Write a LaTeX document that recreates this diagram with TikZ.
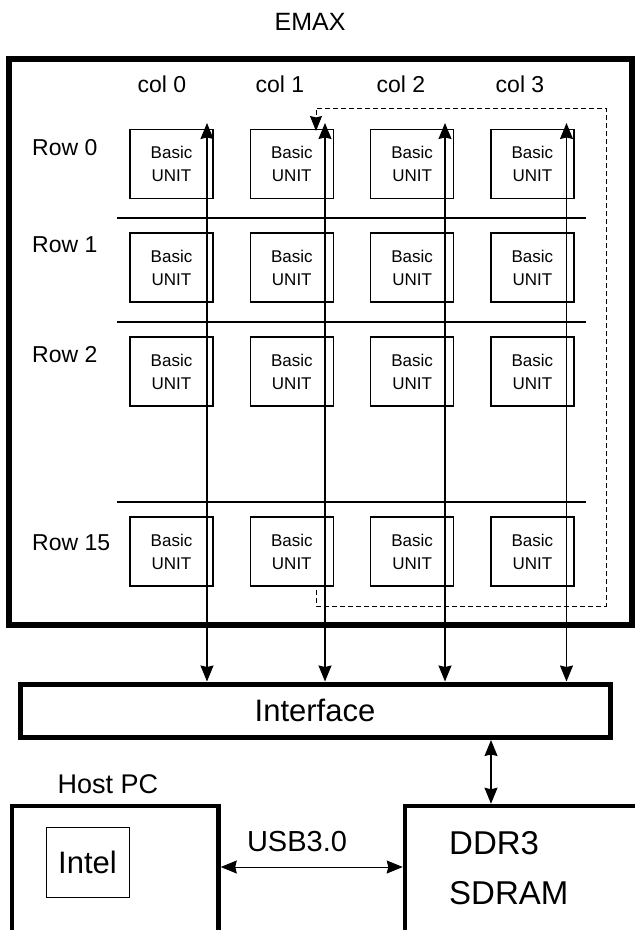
\documentclass[tikz,border=0pt]{standalone}
\usepackage{fontspec}
\setmainfont{Liberation Sans}
\usepackage{tikz}
\usetikzlibrary{arrows.meta,positioning,calc}
\tikzset{
  bunit/.style ={rectangle, draw=black, line width=1.2pt, minimum width=83pt, minimum height=69pt,
                 inner sep=0pt, align=center, font=\fontsize{17}{23}\selectfont},
  hdr/.style   ={inner sep=0pt, font=\fontsize{23}{27}\selectfont},
  frame/.style ={rectangle, draw=black, line width=6pt, inner sep=0pt},
  blk/.style   ={rectangle, draw=black, line width=4.5pt, inner sep=0pt},
  cpu/.style   ={rectangle, draw=black, line width=1pt, inner sep=0pt,
                 minimum width=83pt, minimum height=70pt, font=\fontsize{31}{35}\selectfont},
  sep/.style   ={draw=black, line width=1.2pt},
  bus/.style   ={{Stealth[length=16pt,width=13pt,inset=1.5pt]}-{Stealth[length=16pt,width=13pt,inset=1.5pt]},
                 line width=1.2pt},
  feedback/.style={-{Stealth[length=15pt,width=12pt,inset=1.5pt]}, line width=1pt,
                 dash pattern=on 5pt off 3pt}
}
\begin{document}
\begin{tikzpicture}[x={(1pt,0)}, y={(0,-1pt)}]
\useasboundingbox (0,0) rectangle (635,930);
\node[inner sep=0pt, font=\fontsize{25}{29}\selectfont] (title) at (310,22) {EMAX};
\node[frame, minimum width=623pt, minimum height=566pt] (emax) at (320.5,342) {};
\foreach \c/\cx in {0/162, 1/280, 2/401, 3/520}
  \node[hdr] (col\c) at (\cx,84) {col \c};
\foreach \r/\ry/\ly in {0/164/148, 1/267.5/245, 2/371.5/355, 15/551.5/543}{
  \node[hdr, anchor=west] (row\r) at (32,\ly) {Row \r};
  \foreach \c in {0,...,3}
    \node[bunit] (u\r-\c) at ({171.5+120.3*\c},\ry) {Basic\\UNIT};
}
\foreach \sy in {218,322,502}
  \draw[sep] (117,\sy) -- (586,\sy);
\node[frame, line width=5pt, minimum width=590pt, minimum height=53.5pt,
      font=\fontsize{31}{35}\selectfont] (iface) at (315,710.75) {Interface};
\foreach \c/\bx in {0/207, 1/325, 2/445, 3/566.5}{
  \coordinate (tap\c) at (\bx,123);
  \draw[bus] (tap\c) -- (tap\c |- iface.north);
}
\coordinate (ringin) at (316,590);
\coordinate (ringout) at (316,131);
\draw[feedback] (ringin) -- ++(0,16) -| (606,108) -| (ringout);
\node[font=\fontsize{27}{31}\selectfont, inner sep=0pt] (hostlbl) at (108,784) {Host PC};
\node[blk, minimum width=206.5pt, minimum height=200pt] (host) at (115.25,906) {};
\node[cpu] (intel) at (87.5,862) {Intel};
\node[blk, minimum width=300pt, minimum height=200pt] (ddr) at (555,906) {};
\node[anchor=north west, inner sep=0pt, align=left, font=\fontsize{33}{50}\selectfont] (ddrtxt)
  at (449,831) {DDR3\\SDRAM};
\coordinate (memport) at (491,0);
\draw[bus] (iface.south -| memport) -- (ddr.north -| memport);
\coordinate (usbline) at (0,867);
\draw[bus, line width=1pt] (host.east |- usbline) -- (ddr.west |- usbline);
\node[font=\fontsize{29}{33}\selectfont, inner sep=0pt] (usb) at (297,842) {USB3.0};
\end{tikzpicture}
\end{document}
